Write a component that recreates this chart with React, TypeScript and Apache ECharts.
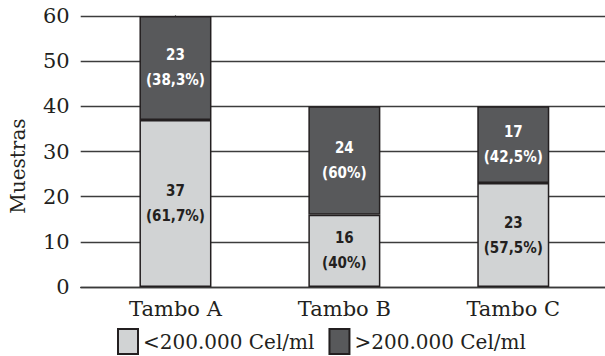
import React, { useEffect, useRef } from "react";
import * as echarts from "echarts";

const categories = ["Tambo A", "Tambo B", "Tambo C"];
const lowCounts = [37, 16, 23];
const highCounts = [23, 24, 17];
const lowPct = ["61,7%", "40%", "57,5%"];
const highPct = ["38,3%", "60%", "42,5%"];
const seriesNames = ["<200.000 Cel/ml", ">200.000 Cel/ml"];
const yTicks = { min: 0, max: 60, interval: 10 };

const labelFont = "'Liberation Sans Narrow', 'DejaVu Sans Condensed', sans-serif";
const serif = "'DejaVu Serif', serif";

export default function App() {
  const ref = useRef<HTMLDivElement>(null);
  useEffect(() => {
    if (!ref.current) return;
    const chart = echarts.init(ref.current, null, { renderer: "svg" });
    // value first so that the stack is computed on the y dimension
    const mk = (vals: number[]) => vals.map((v, i) => [v, i]);
    chart.setOption({
      animation: false,
      grid: { left: 80.7, right: 0, top: 16, bottom: 69 },
      xAxis: {
        type: "value",
        min: -0.561,
        max: 2.543,
        splitLine: { show: false },
        axisTick: { show: false },
        axisLine: { show: true, lineStyle: { color: "#3a3a3a", width: 1.3 } },
        axisLabel: {
          customValues: [0, 1, 2],
          formatter: (v: number) => categories[Math.round(v)] ?? "",
          fontFamily: serif,
          fontSize: 21,
          color: "#231f20",
          margin: 11,
        },
      },
      yAxis: {
        type: "value",
        min: yTicks.min,
        max: yTicks.max,
        interval: yTicks.interval,
        axisLine: { show: true, lineStyle: { color: "#3a3a3a", width: 1.3 } },
        axisTick: { show: false },
        splitLine: { lineStyle: { color: "#3c3c3c", width: 1.3 } },
        axisLabel: { fontFamily: serif, fontSize: 21, color: "#231f20", margin: 11 },
      },
      legend: {
        data: seriesNames,
        left: 117,
        top: 328,
        padding: 0,
        icon: "rect",
        itemWidth: 20,
        itemHeight: 25,
        itemGap: 14,
        textStyle: { fontFamily: serif, fontSize: 20, color: "#231f20" },
      },
      graphic: [
        {
          type: "text",
          x: 17.5,
          y: 166,
          rotation: Math.PI / 2,
          style: {
            text: "Muestras",
            fontFamily: serif,
            fontSize: 20,
            fill: "#231f20",
            align: "center",
            verticalAlign: "middle",
          },
        },
      ],
      series: [
        {
          name: seriesNames[0],
          type: "bar",
          stack: "t",
          barWidth: 72,
          encode: { x: 1, y: 0 },
          data: mk(lowCounts),
          itemStyle: { color: "#d1d3d4", borderColor: "#231f20", borderWidth: 1.5 },
          label: {
            show: true,
            position: "inside",
            formatter: (p: any) => `${lowCounts[p.dataIndex]}\n(${lowPct[p.dataIndex]})`,
            fontFamily: labelFont,
            fontWeight: "bold",
            fontSize: 15,
            lineHeight: 25,
            color: "#231f20",
          },
        },
        {
          name: seriesNames[1],
          type: "bar",
          stack: "t",
          barWidth: 72,
          encode: { x: 1, y: 0 },
          data: mk(highCounts),
          itemStyle: { color: "#58595b", borderColor: "#231f20", borderWidth: 1.5 },
          label: {
            show: true,
            position: "inside",
            formatter: (p: any) => `${highCounts[p.dataIndex]}\n(${highPct[p.dataIndex]})`,
            fontFamily: labelFont,
            fontWeight: "bold",
            fontSize: 15,
            lineHeight: 25,
            color: "#ffffff",
          },
        },
      ],
    });
    return () => chart.dispose();
  }, []);
  return (
    <div
      ref={ref}
      style={{ position: "fixed", left: 0, top: 0, width: 605, height: 356, background: "#fff" }}
    />
  );
}
